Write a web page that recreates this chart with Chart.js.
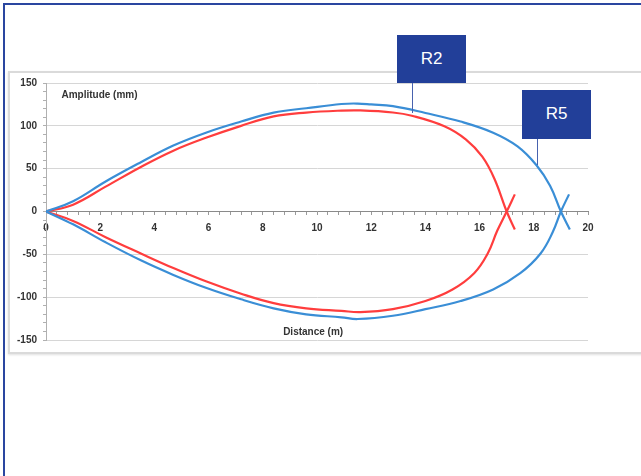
<!DOCTYPE html>
<html lang="en">
<head>
    <meta charset="UTF-8">
    <title>Amplitude vs Distance</title>
    <style>
        body { margin: 0; width: 641px; height: 476px; overflow: hidden; background: #fff; font-family: "Liberation Sans", Arial, sans-serif; position: relative; }
        .frame-top { position: absolute; left: 3px; top: 3px; right: 0; height: 2px; background: #2a46a0; }
        .frame-left { position: absolute; left: 3px; top: 3px; bottom: 0; width: 2px; background: #2a46a0; }
        .panel { position: absolute; left: 8px; top: 71px; width: 640px; height: 279px; border: 2px solid #dadada; box-shadow: 0 1px 2px rgba(0,0,0,0.12); background: #fff; }
        .chart-box { position: absolute; left: 8px; top: 71px; width: 633px; height: 281px; }
        .tag { position: absolute; width: 69px; height: 48px; background: #223f99; color: #fff; font-size: 17px; line-height: 48px; text-align: center; z-index: 5; }
        .leader { position: absolute; width: 1.5px; background: #4862ae; z-index: 5; }
    </style>
</head>
<body>
    <div class="frame-top"></div>
    <div class="frame-left"></div>
    <div class="panel"></div>

    <!-- grafico -->
    <div class="chart-box">
        <canvas id="chart"></canvas>
    </div>

    <!-- etiquetas R2 / R5 -->
    <div class="tag" style="left:397px; top:35px;">R2</div>
    <div class="leader" style="left:411.5px; top:83px; height:30px;"></div>
    <div class="tag" style="left:522px; top:90px; height:49px;">R5</div>
    <div class="leader" style="left:536.5px; top:139px; height:26px;"></div>

    <script src="https://cdn.jsdelivr.net/npm/chart.js"></script>
    <script>
        // R2 (red) - upper and lower branches
        const r2UpperX = [0, 1.0, 2.2, 3.5, 4.7, 5.9, 7.2, 8.4, 9.6, 10.9, 11.6, 12.8, 13.5, 14.7, 15.5, 16.1, 16.55, 17.0, 17.3];
        const r2UpperY = [0, 8, 29, 52, 71, 86, 100, 111, 115.5, 117.8, 118, 115.6, 111.8, 99.5, 84, 64, 38, 0, -21];
        const r2LowerX = [0, 1.0, 2.2, 3.5, 4.7, 5.9, 7.2, 8.4, 9.6, 10.9, 11.6, 12.8, 14.0, 15.0, 15.8, 16.3, 16.65, 17.0, 17.3];
        const r2LowerY = [0, -11, -30, -49, -66, -81.5, -96, -107, -113, -116, -117.5, -114, -104.5, -91, -72, -49, -22.5, 0, 20];

        // R5 (blue)
        const r5UpperX = [0, 1.0, 2.2, 3.5, 4.7, 5.9, 7.2, 8.4, 9.6, 10.9, 11.5, 12.0, 12.8, 14.0, 15.3, 16.5, 17.4, 18.1, 18.6, 19.0, 19.33];
        const r5UpperY = [0, 12, 35, 57.5, 77, 92, 105, 115.5, 120.5, 125.5, 126, 125, 123, 115, 105, 92, 76, 54, 30, 0, -21];
        const r5LowerX = [0, 1.0, 2.2, 3.5, 4.7, 5.9, 7.2, 8.4, 9.6, 10.9, 11.5, 12.8, 14.0, 15.3, 16.5, 17.5, 18.25, 18.7, 19.0, 19.3];
        const r5LowerY = [0, -15, -36, -57, -74, -89, -102.5, -113, -120, -123.5, -125.5, -121.7, -114, -104.5, -91, -72, -49, -24, 0, 20];

        const xTitle = 'Distance (m)';
        const yTitle = 'Amplitude (mm)';

        const red = '#ff3d3d';
        const blue = '#3a8ed6';

        function toPoints(xs, ys) {
            return xs.map((x, i) => ({ x: x, y: ys[i] }));
        }

        function line(label, xs, ys, color) {
            return {
                label: label,
                data: toPoints(xs, ys),
                showLine: true,
                borderColor: color,
                borderWidth: 2.2,
                pointRadius: 0,
                tension: 0.4,
                fill: false
            };
        }

        // titulos de los ejes dentro del area del grafico
        const axisTitles = {
            id: 'axisTitles',
            afterDraw(chart) {
                const ctx = chart.ctx;
                const sx = chart.scales.x, sy = chart.scales.y;
                ctx.save();
                ctx.font = 'bold 10px "Liberation Sans", Arial, sans-serif';
                ctx.fillStyle = '#333';
                ctx.textBaseline = 'middle';
                ctx.textAlign = 'left';
                ctx.fillText(yTitle, sx.getPixelForValue(0.57), sy.getPixelForValue(136));
                ctx.fillText(xTitle, sx.getPixelForValue(8.75), sy.getPixelForValue(-140.5));
                ctx.restore();
            }
        };

        const tickFont = { family: '"Liberation Sans", Arial, sans-serif', size: 10, weight: 'bold' };

        new Chart(document.getElementById('chart'), {
            type: 'scatter',
            data: {
                datasets: [
                    line('R5', r5UpperX, r5UpperY, blue),
                    line('R5', r5LowerX, r5LowerY, blue),
                    line('R2', r2UpperX, r2UpperY, red),
                    line('R2', r2LowerX, r2LowerY, red)
                ]
            },
            options: {
                responsive: true,
                maintainAspectRatio: false,
                animation: false,
                layout: { padding: { left: 8, top: 9, right: 53, bottom: 9 } },
                plugins: {
                    legend: { display: false },
                    tooltip: { enabled: false }
                },
                scales: {
                    x: {
                        type: 'linear',
                        position: { y: 0 },
                        min: 0,
                        max: 20,
                        border: { color: '#8a8a8a', width: 1 },
                        grid: { drawOnChartArea: false, tickLength: 3, tickColor: '#9a9a9a' },
                        ticks: {
                            stepSize: 0.4,
                            autoSkip: false,
                            maxRotation: 0,
                            padding: 8,
                            color: '#333',
                            font: tickFont,
                            callback: v => Math.abs(v / 2 - Math.round(v / 2)) < 1e-6 ? String(Math.round(v)) : ''
                        }
                    },
                    y: {
                        type: 'linear',
                        position: 'left',
                        min: -150,
                        max: 150,
                        afterFit(scale) { scale.width = 30; },
                        border: { color: '#b0b0b0', width: 1 },
                        grid: {
                            color: c => (c.tick && c.tick.value % 50 === 0) ? '#d6d6d6' : 'rgba(0,0,0,0)',
                            tickColor: '#b0b0b0',
                            tickLength: 3
                        },
                        ticks: {
                            stepSize: 10,
                            autoSkip: false,
                            padding: 6,
                            color: '#333',
                            font: tickFont,
                            callback: v => v % 50 === 0 ? String(v) : ''
                        }
                    }
                }
            },
            plugins: [axisTitles]
        });
    </script>
</body>
</html>
